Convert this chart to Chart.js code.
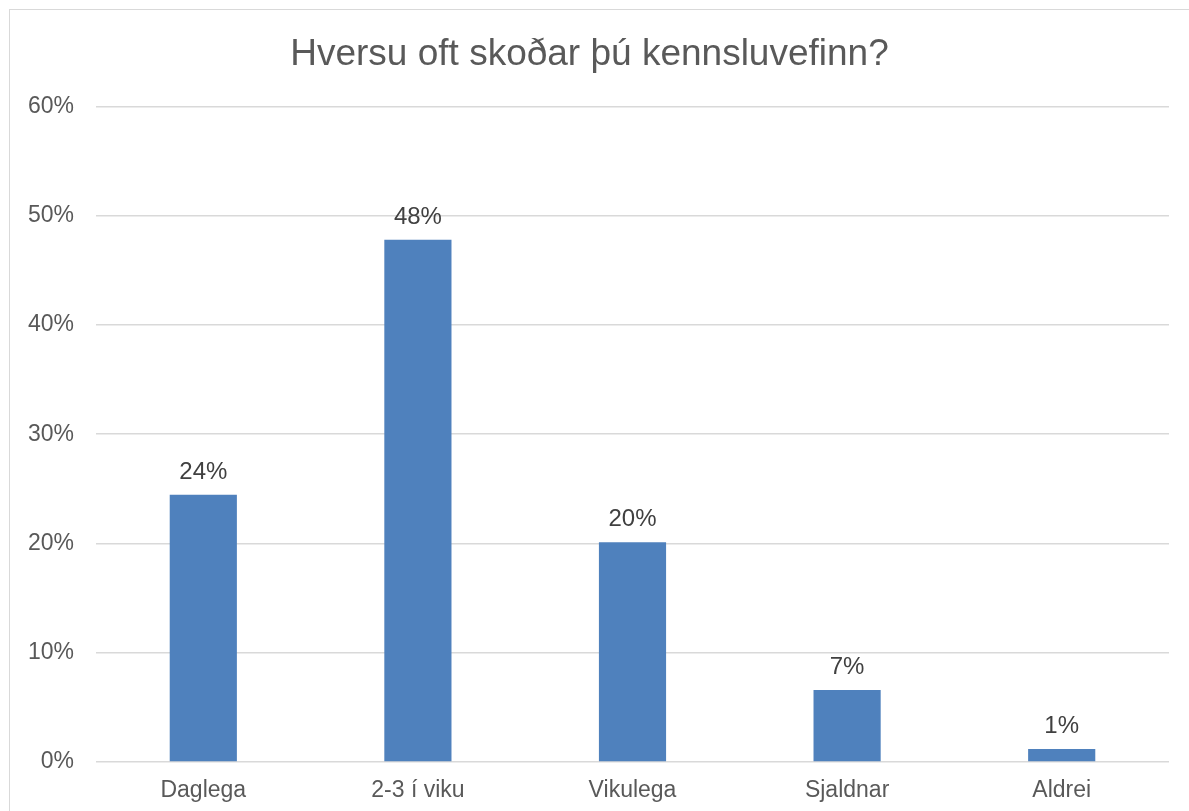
<!DOCTYPE html>
<html>
<head>
<meta charset="utf-8">
<script src="https://cdn.jsdelivr.net/npm/chart.js@4/dist/chart.umd.min.js"></script>
<style>
  html, body { margin: 0; padding: 0; background: #fff; }
  #wrap {
    position: absolute; left: 9px; top: 9px;
    width: 1180px; height: 802px;
    border-left: 1px solid #d9d9d9; border-top: 1px solid #d9d9d9;
    box-sizing: border-box;
  }
  #chart { display: block; }
</style>
</head>
<body>
<div id="wrap"><canvas id="chart" width="1179" height="801"></canvas></div>
<script>
/* === Data === */
const categories = ["Daglega", "2-3 í viku", "Vikulega", "Sjaldnar", "Aldrei"];
const values     = [24.45, 47.8, 20.1, 6.6, 1.2];
const valueLabels = ["24%", "48%", "20%", "7%", "1%"];
const yTicks     = [0, 10, 20, 30, 40, 50, 60];

const FONT = "'Liberation Sans', Arial, sans-serif";

/* === Data labels above the bars === */
const barLabels = {
  id: 'barLabels',
  afterDatasetsDraw(chart) {
    const c = chart.ctx;
    const meta = chart.getDatasetMeta(0);
    c.save();
    c.font = `24px ${FONT}`;
    c.fillStyle = '#404040';
    c.textAlign = 'center';
    c.textBaseline = 'alphabetic';
    meta.data.forEach((bar, i) => {
      c.fillText(valueLabels[i], bar.x, bar.y - 16);
    });
    c.restore();
  }
};

new Chart(document.getElementById('chart'), {
  type: 'bar',
  data: {
    labels: categories,
    datasets: [{
      data: values,
      backgroundColor: '#4f81bd',
      borderWidth: 0,
      barPercentage: 0.313,
      categoryPercentage: 1
    }]
  },
  options: {
    responsive: false,
    animation: false,
    layout: { padding: { left: 0, right: 20, top: 0, bottom: 0 } },
    plugins: {
      legend: { display: false },
      tooltip: { enabled: false },
      title: {
        display: true,
        text: 'Hversu oft skoðar þú kennsluvefinn?',
        color: '#595959',
        font: { family: FONT, size: 37, weight: 'normal' },
        padding: { top: 23, bottom: 29 }
      }
    },
    scales: {
      x: {
        grid: { display: false },
        border: { display: false },
        ticks: {
          color: '#595959',
          font: { family: FONT, size: 23 },
          padding: 7,
          maxRotation: 0
        },
        afterFit(s) { s.height = 49; }
      },
      y: {
        min: 0,
        max: 60,
        afterBuildTicks(s) { s.ticks = yTicks.map(v => ({ value: v })); },
        grid: { color: '#d9d9d9', lineWidth: 1.5, drawTicks: false },
        border: { display: false },
        ticks: {
          color: '#595959',
          font: { family: FONT, size: 23 },
          padding: 22,
          callback: v => v + '%'
        },
        afterFit(s) { s.width = 86; }
      }
    }
  },
  plugins: [barLabels]
});
</script>
</body>
</html>
